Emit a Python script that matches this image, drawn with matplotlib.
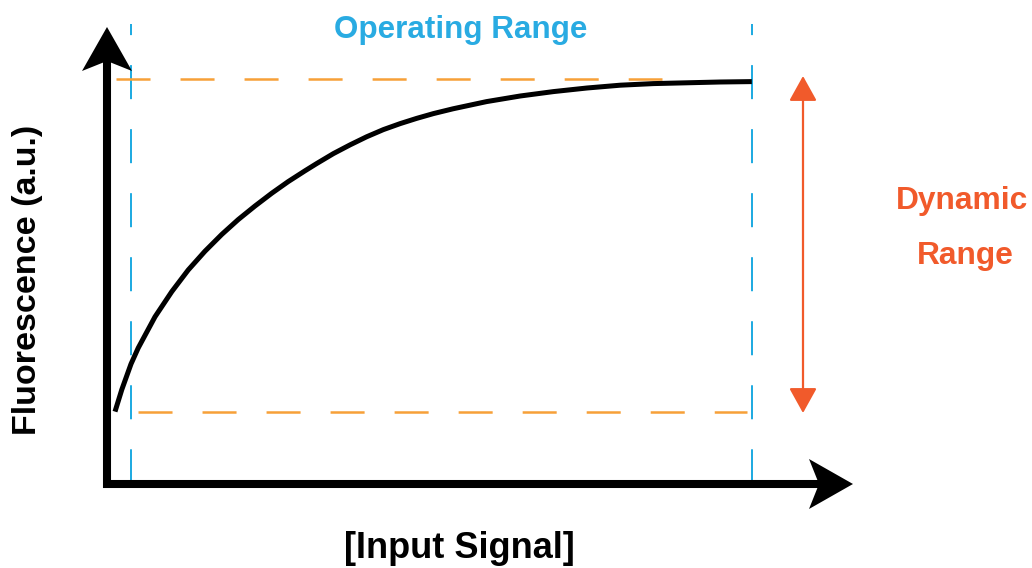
import numpy as np
import matplotlib
matplotlib.use("Agg")
import matplotlib.pyplot as plt
from matplotlib.patches import Polygon, FancyArrowPatch

plt.rcParams["font.family"] = ["Liberation Sans", "DejaVu Sans"]
plt.rcParams["lines.scale_dashes"] = False

# Response curve: input signal vs fluorescence (arbitrary units)
signal = [0.2, 0.37, 0.6, 0.78, 1.2, 1.62, 2.03, 2.45, 2.87, 3.28, 3.7, 4.12,
          4.53, 4.95, 5.24, 5.66, 6.08, 6.49, 6.91, 7.33, 7.74, 8.16, 8.65,
          9.49, 10.33, 11.16, 12.0, 12.83, 13.66, 14.49, 15.33, 16.12]
fluorescence = [1.81, 2.36, 3.0, 3.4, 4.18, 4.81, 5.35, 5.82, 6.24, 6.61, 6.95,
                7.27, 7.56, 7.83, 8.01, 8.26, 8.48, 8.68, 8.86, 9.01, 9.14, 9.26,
                9.38, 9.56, 9.7, 9.81, 9.9, 9.97, 10.01, 10.03, 10.05, 10.06]

# Operating range (input) and dynamic range (output) limits
operating_range = [0.6, 16.125]
dynamic_range = [1.8, 10.125]
low_guide_span = [0.775, 16.0]
high_guide_span = [0.225, 13.875]

axis_x_end = 18.65
axis_y_end = 11.425
range_arrow_x = 17.4

# Axis titles and annotations
x_title = "[Input Signal]"
y_title = "Fluorescence (a.u.)"
operating_label = "Operating Range"
dynamic_lines = ["Dynamic", "Range"]

BLUE = "#1BA9E1"
BLUE_TXT = "#29ABE2"
ORANGE = "#F7A038"
RED = "#F15A2B"

W, H = 1032, 568
fig = plt.figure(figsize=(W / 100, H / 100), dpi=100)
ax = fig.add_axes([0, 0, 1, 1])
unit = 40.0  # pixels per data unit
ox, oy = 107, 484
ax.set_xlim(-ox / unit, (W - ox) / unit)
ax.set_ylim(-(H - oy) / unit, oy / unit)
ax.axis("off")

dash = (0, (24.5, 21.6))
# vertical guides bounding the operating range
for xv in operating_range:
    ax.plot([xv, xv], [11.5, 0.1], color=BLUE, lw=1.4,
            linestyle=(16.5, (24.5, 21.6)), dash_capstyle="butt")
# horizontal guides bounding the dynamic range
ax.plot(low_guide_span, [dynamic_range[0]] * 2, color=ORANGE, lw=1.8,
        linestyle=dash, dash_capstyle="butt")
ax.plot(high_guide_span, [dynamic_range[1]] * 2, color=ORANGE, lw=1.8,
        linestyle=dash, dash_capstyle="butt")

# response curve
ax.plot(signal, fluorescence, color="black", lw=3.6, solid_capstyle="butt",
        solid_joinstyle="round", zorder=4)

# axes with arrowheads
head_len, head_half, notch = 44 / unit, 25 / unit, 34 / unit
shaft = 5.8
ax.plot([0, 0], [-0.1, axis_y_end - notch + 0.05], color="black", lw=shaft,
        solid_capstyle="butt", zorder=5)
ax.plot([-0.1, axis_x_end - notch + 0.05], [0, 0], color="black", lw=shaft,
        solid_capstyle="butt", zorder=5)
ax.add_patch(Polygon([(0, axis_y_end), (head_half, axis_y_end - head_len),
                      (0, axis_y_end - notch), (-head_half, axis_y_end - head_len)],
                     closed=True, color="black", lw=0, zorder=6))
ax.add_patch(Polygon([(axis_x_end, 0), (axis_x_end - head_len, head_half),
                      (axis_x_end - notch, 0), (axis_x_end - head_len, -head_half)],
                     closed=True, color="black", lw=0, zorder=6))

# double arrow for the dynamic range
ax.add_patch(FancyArrowPatch((range_arrow_x, dynamic_range[0] - 0.025),
                             (range_arrow_x, dynamic_range[1] + 0.075),
                             arrowstyle="<|-|>,head_length=15.5,head_width=8.6",
                             mutation_scale=1, color=RED, lw=1.6, shrinkA=0, shrinkB=0))

ax.text(8.85, 11.15, operating_label, color=BLUE_TXT, fontsize=22.6,
        fontweight="bold", ha="center", va="baseline")
ax.text(8.8, -1.85, x_title, color="black", fontsize=26, fontweight="bold",
        ha="center", va="baseline")
ax.text(-1.77, 5.1, y_title, color="black", fontsize=24.5, fontweight="bold",
        ha="center", va="baseline", rotation=90, rotation_mode="anchor")
ax.text(21.375, 6.88, dynamic_lines[0], color=RED, fontsize=22.9,
        fontweight="bold", ha="center", va="baseline")
ax.text(21.45, 5.5, dynamic_lines[1], color=RED, fontsize=22.9,
        fontweight="bold", ha="center", va="baseline")

fig.savefig("out.png", dpi=100)
